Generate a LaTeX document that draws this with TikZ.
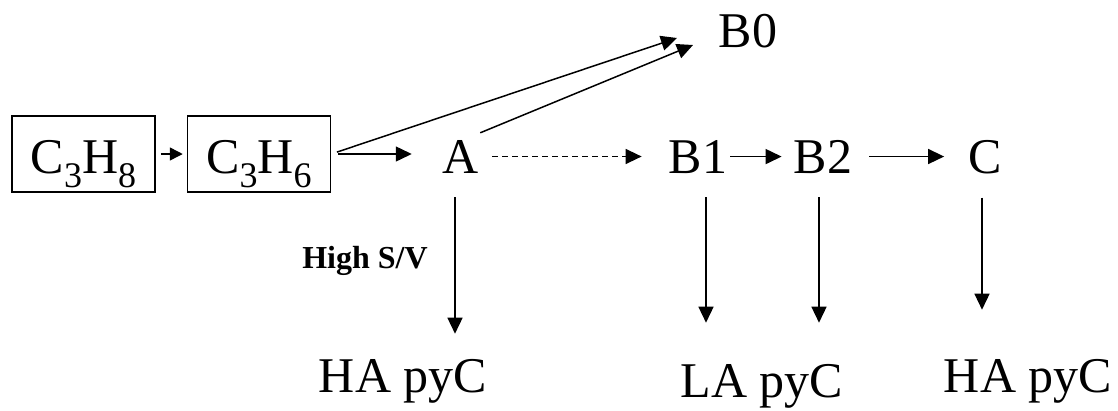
\documentclass[tikz,border=0pt]{standalone}
\usepackage{fontspec}
\setmainfont{Liberation Serif}
\usetikzlibrary{arrows.meta}
\newcommand\lowsub[1]{\raisebox{-14pt}{\fontsize{36}{40}\selectfont #1}}

\begin{document}
\begin{tikzpicture}[x=1pt,y=-1pt,
	species/.style={font=\fontsize{50}{60}\selectfont, inner sep=0pt, anchor=base},
	feed/.style={draw, line width=1.5pt, font=\fontsize{50}{60}\selectfont, minimum width=143pt, minimum height=76pt, text height=38pt, text depth=0pt, inner sep=0pt},
	cond/.style={font=\bfseries\fontsize{32}{38}\selectfont, inner sep=0pt, anchor=base},
	flow/.style={-{Triangle[length=16pt,width=15pt]}, line width=1.5pt}]
	\useasboundingbox (0,0) rectangle (1118,410);
	% feed boxes
	\node [feed] (c3h8) at (83.5,154) {C\lowsub{3}H\lowsub{8}};
	\node [feed] (c3h6) at (259,154) {C\lowsub{3}H\lowsub{6}};
	% species
	\node [species] (A) at (461,173) {A};
	\node [species] (B0) at (748,47) {B0};
	\node [species] (B1) at (698,173) {B1};
	\node [species] (B2) at (823,173) {B2};
	\node [species] (C) at (985,173) {C};
	% products
	\node [species] (HA1) at (403,392) {HA pyC};
	\node [species] (LA) at (762,397) {LA pyC};
	\node [species] (HA2) at (1028,392) {HA pyC};
	\node [cond] (sv) at (365,268) {High S/V};
	% helper points
	\coordinate (A-rise) at ([shift={(1,-7)}]A.north east);
	\coordinate (B0-tip1) at ([shift={(-71,-9)}]B0.base);
	\coordinate (B0-tip2) at ([shift={(-55,-2)}]B0.base);
	\coordinate (A-drop) at ([shift={(-6,24)}]A.south);
	\coordinate (B1-drop) at ([shift={(8,24)}]B1.south);
	\coordinate (B2-drop) at ([shift={(-4,24)}]B2.south);
	\coordinate (C-drop) at ([shift={(-3,24)}]C.south);
	% main line
	\draw [flow, -{Triangle[length=13pt,width=13pt]}, shorten <=5pt, shorten >=4pt] (c3h8.east) -- (c3h6.west);
	\draw [flow, shorten <=7pt, shorten >=31pt] (c3h6.east) -- (c3h6.east -| A.west);
	\draw [flow, dash pattern=on 6pt off 4pt, shorten <=13pt, shorten >=27pt] (A.east) -- (A.east -| B1.west);
	\draw [flow, shorten <=3pt, shorten >=12pt] (B1.east) -- (B1.east -| B2.west);
	\draw [flow, shorten <=17pt, shorten >=24pt] (B2.east) -- (B2.east -| C.west);
	% to B0
	\draw [flow, shorten <=6pt] (c3h6.east) -- (B0-tip1);
	\draw [flow] (A-rise) -- (B0-tip2);
	% down to pyC
	\draw [flow, shorten >=25pt] (A-drop) -- (A-drop |- HA1.north);
	\draw [flow, shorten >=41pt] (B1-drop) -- (B1-drop |- LA.north);
	\draw [flow, shorten >=41pt] (B2-drop) -- (B2-drop |- LA.north);
	\draw [flow, shorten >=49pt] (C-drop) -- (C-drop |- HA2.north);
\end{tikzpicture}
\end{document}
